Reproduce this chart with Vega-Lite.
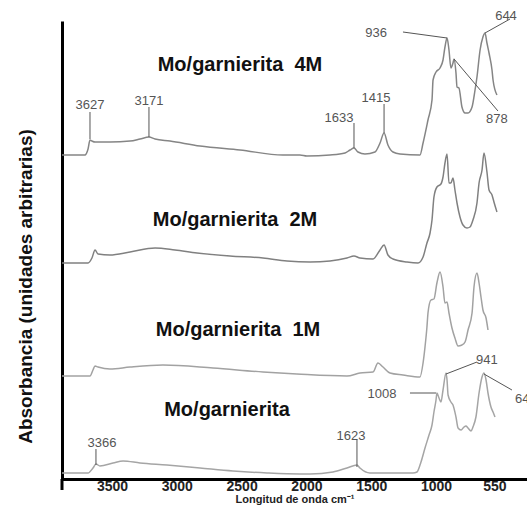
{
  "$schema": "https://vega.github.io/schema/vega-lite/v6.json",
  "width": 465,
  "height": 458,
  "autosize": "none",
  "padding": {"left": 62, "top": 21, "right": 0, "bottom": 27},
  "background": "white",
  "config": {"view": {"stroke": null}, "font": "Liberation Sans"},
  "datasets": {
    "spectra": [
      {"s":"4M","w":3886,"a":324},{"s":"4M","w":3709,"a":324},{"s":"4M","w":3685,"a":330},{"s":"4M","w":3670,"a":339},{"s":"4M","w":3655,"a":338},{"s":"4M","w":3631,"a":337},{"s":"4M","w":3516,"a":337},{"s":"4M","w":3361,"a":338},{"s":"4M","w":3284,"a":340},{"s":"4M","w":3215,"a":342},{"s":"4M","w":3168,"a":340},{"s":"4M","w":3053,"a":338},{"s":"4M","w":2821,"a":333},{"s":"4M","w":2513,"a":329},{"s":"4M","w":2181,"a":324},{"s":"4M","w":2050,"a":324},{"s":"4M","w":1996,"a":323},{"s":"4M","w":1818,"a":324},{"s":"4M","w":1702,"a":326},{"s":"4M","w":1664,"a":329},{"s":"4M","w":1633,"a":331},{"s":"4M","w":1602,"a":327},{"s":"4M","w":1548,"a":325},{"s":"4M","w":1471,"a":327},{"s":"4M","w":1432,"a":336},{"s":"4M","w":1401,"a":346},{"s":"4M","w":1371,"a":334},{"s":"4M","w":1332,"a":327},{"s":"4M","w":1278,"a":325},{"s":"4M","w":1124,"a":324},{"s":"4M","w":1100,"a":336},{"s":"4M","w":1062,"a":359},{"s":"4M","w":1031,"a":379},{"s":"4M","w":1023,"a":399},{"s":"4M","w":1000,"a":407},{"s":"4M","w":969,"a":411},{"s":"4M","w":946,"a":419},{"s":"4M","w":931,"a":432},{"s":"4M","w":915,"a":441},{"s":"4M","w":900,"a":429},{"s":"4M","w":885,"a":411},{"s":"4M","w":869,"a":416},{"s":"4M","w":861,"a":420},{"s":"4M","w":846,"a":406},{"s":"4M","w":838,"a":392},{"s":"4M","w":823,"a":391},{"s":"4M","w":800,"a":372},{"s":"4M","w":776,"a":366},{"s":"4M","w":753,"a":366},{"s":"4M","w":722,"a":372},{"s":"4M","w":699,"a":389},{"s":"4M","w":684,"a":402},{"s":"4M","w":660,"a":429},{"s":"4M","w":638,"a":442},{"s":"4M","w":622,"a":446},{"s":"4M","w":607,"a":436},{"s":"4M","w":591,"a":426},{"s":"4M","w":568,"a":409},{"s":"4M","w":560,"a":399},{"s":"4M","w":530,"a":384},
      {"s":"2M","w":3886,"a":216},{"s":"2M","w":3685,"a":216},{"s":"2M","w":3655,"a":221},{"s":"2M","w":3631,"a":229},{"s":"2M","w":3608,"a":225},{"s":"2M","w":3516,"a":224},{"s":"2M","w":3361,"a":227},{"s":"2M","w":3168,"a":231},{"s":"2M","w":3014,"a":229},{"s":"2M","w":2844,"a":226},{"s":"2M","w":2590,"a":223},{"s":"2M","w":2335,"a":221},{"s":"2M","w":2150,"a":218},{"s":"2M","w":1972,"a":217},{"s":"2M","w":1818,"a":218},{"s":"2M","w":1687,"a":221},{"s":"2M","w":1633,"a":223},{"s":"2M","w":1587,"a":221},{"s":"2M","w":1486,"a":220},{"s":"2M","w":1432,"a":229},{"s":"2M","w":1401,"a":234},{"s":"2M","w":1371,"a":224},{"s":"2M","w":1332,"a":220},{"s":"2M","w":1224,"a":217},{"s":"2M","w":1139,"a":216},{"s":"2M","w":1100,"a":222},{"s":"2M","w":1070,"a":236},{"s":"2M","w":1046,"a":246},{"s":"2M","w":1031,"a":259},{"s":"2M","w":1016,"a":282},{"s":"2M","w":993,"a":292},{"s":"2M","w":962,"a":295},{"s":"2M","w":946,"a":302},{"s":"2M","w":931,"a":316},{"s":"2M","w":915,"a":325},{"s":"2M","w":900,"a":296},{"s":"2M","w":885,"a":296},{"s":"2M","w":869,"a":301},{"s":"2M","w":854,"a":289},{"s":"2M","w":838,"a":276},{"s":"2M","w":815,"a":262},{"s":"2M","w":792,"a":254},{"s":"2M","w":761,"a":251},{"s":"2M","w":738,"a":252},{"s":"2M","w":715,"a":259},{"s":"2M","w":684,"a":276},{"s":"2M","w":668,"a":296},{"s":"2M","w":645,"a":309},{"s":"2M","w":630,"a":326},{"s":"2M","w":607,"a":307},{"s":"2M","w":591,"a":289},{"s":"2M","w":568,"a":284},{"s":"2M","w":553,"a":277},{"s":"2M","w":530,"a":267},
      {"s":"1M","w":3886,"a":103},{"s":"1M","w":3670,"a":103},{"s":"1M","w":3647,"a":109},{"s":"1M","w":3631,"a":113},{"s":"1M","w":3608,"a":112},{"s":"1M","w":3516,"a":110},{"s":"1M","w":3361,"a":112},{"s":"1M","w":3107,"a":114},{"s":"1M","w":2721,"a":111},{"s":"1M","w":2335,"a":107},{"s":"1M","w":2073,"a":105},{"s":"1M","w":1687,"a":103},{"s":"1M","w":1587,"a":106},{"s":"1M","w":1486,"a":107},{"s":"1M","w":1448,"a":116},{"s":"1M","w":1409,"a":112},{"s":"1M","w":1355,"a":106},{"s":"1M","w":1255,"a":104},{"s":"1M","w":1124,"a":102},{"s":"1M","w":1100,"a":116},{"s":"1M","w":1085,"a":132},{"s":"1M","w":1070,"a":152},{"s":"1M","w":1062,"a":166},{"s":"1M","w":1039,"a":179},{"s":"1M","w":1016,"a":180},{"s":"1M","w":993,"a":196},{"s":"1M","w":969,"a":207},{"s":"1M","w":946,"a":192},{"s":"1M","w":931,"a":176},{"s":"1M","w":915,"a":177},{"s":"1M","w":900,"a":166},{"s":"1M","w":877,"a":151},{"s":"1M","w":854,"a":141},{"s":"1M","w":830,"a":133},{"s":"1M","w":800,"a":134},{"s":"1M","w":776,"a":137},{"s":"1M","w":753,"a":149},{"s":"1M","w":722,"a":166},{"s":"1M","w":707,"a":192},{"s":"1M","w":684,"a":206},{"s":"1M","w":668,"a":196},{"s":"1M","w":653,"a":182},{"s":"1M","w":638,"a":169},{"s":"1M","w":614,"a":161},{"s":"1M","w":599,"a":149},
      {"s":"base","w":3886,"a":6},{"s":"base","w":3685,"a":6},{"s":"base","w":3647,"a":11},{"s":"base","w":3624,"a":15},{"s":"base","w":3593,"a":13},{"s":"base","w":3492,"a":16},{"s":"base","w":3415,"a":18},{"s":"base","w":3284,"a":16},{"s":"base","w":3076,"a":14},{"s":"base","w":2821,"a":11},{"s":"base","w":2567,"a":8},{"s":"base","w":2304,"a":6},{"s":"base","w":2050,"a":5},{"s":"base","w":1972,"a":5},{"s":"base","w":1795,"a":7},{"s":"base","w":1687,"a":11},{"s":"base","w":1610,"a":14},{"s":"base","w":1587,"a":11},{"s":"base","w":1510,"a":6},{"s":"base","w":1178,"a":6},{"s":"base","w":1147,"a":7},{"s":"base","w":1116,"a":17},{"s":"base","w":1085,"a":31},{"s":"base","w":1054,"a":44},{"s":"base","w":1031,"a":54},{"s":"base","w":1016,"a":67},{"s":"base","w":1000,"a":79},{"s":"base","w":993,"a":86},{"s":"base","w":977,"a":81},{"s":"base","w":962,"a":77},{"s":"base","w":946,"a":89},{"s":"base","w":923,"a":106},{"s":"base","w":915,"a":99},{"s":"base","w":907,"a":84},{"s":"base","w":885,"a":77},{"s":"base","w":869,"a":74},{"s":"base","w":846,"a":62},{"s":"base","w":830,"a":51},{"s":"base","w":807,"a":49},{"s":"base","w":784,"a":52},{"s":"base","w":769,"a":53},{"s":"base","w":753,"a":51},{"s":"base","w":730,"a":48},{"s":"base","w":715,"a":52},{"s":"base","w":692,"a":62},{"s":"base","w":668,"a":86},{"s":"base","w":645,"a":102},{"s":"base","w":630,"a":106},{"s":"base","w":614,"a":99},{"s":"base","w":599,"a":86},{"s":"base","w":576,"a":72},{"s":"base","w":560,"a":67},{"s":"base","w":545,"a":62}
    ],
    "leaders": [
      {"w":3670,"a":367,"w2":3670,"a2":340},
      {"w":3215,"a":372,"w2":3215,"a2":342},
      {"w":1633,"a":356,"w2":1633,"a2":331},
      {"w":1401,"a":375,"w2":1401,"a2":346},
      {"w":1255,"a":447,"w2":915,"a2":441},
      {"w":622,"a":446,"w2":429,"a2":460},
      {"w":861,"a":420,"w2":522,"a2":368},
      {"w":3624,"a":30,"w2":3624,"a2":14},
      {"w":1610,"a":39,"w2":1610,"a2":12},
      {"w":1201,"a":86,"w2":1000,"a2":86},
      {"w":923,"a":105,"w2":684,"a2":117},
      {"w":630,"a":105,"w2":414,"a2":89}
    ],
    "peaks": [
      {"w":3670,"a":374,"t":"3627"},
      {"w":3215,"a":378,"t":"3171"},
      {"w":1749,"a":361,"t":"1633"},
      {"w":1463,"a":381,"t":"1415"},
      {"w":1463,"a":446,"t":"936"},
      {"w":460,"a":463,"t":"644"},
      {"w":530,"a":360,"t":"878"},
      {"w":3577,"a":36,"t":"3366"},
      {"w":1656,"a":43,"t":"1623"},
      {"w":1417,"a":85,"t":"1008"},
      {"w":607,"a":119,"t":"941"},
      {"w":306,"a":80,"t":"644"}
    ],
    "samples": [
      {"w":2513,"a":414,"t":"Mo/garnierita \u00a04M"},
      {"w":2551,"a":259,"t":"Mo/garnierita \u00a02M"},
      {"w":2528,"a":149,"t":"Mo/garnierita \u00a01M"},
      {"w":2613,"a":69,"t":"Mo/garnierita"}
    ]
  },
  "encoding": {
    "x": {
      "field": "w", "type": "quantitative",
      "scale": {"domain": [298, 3886], "reverse": true, "nice": false, "zero": false},
      "axis": {
        "values": [3500, 3000, 2500, 2000, 1500, 1000, 550], "format": "d",
        "ticks": false, "grid": false, "labelFlush": false, "labelOverlap": false,
        "domainColor": "black", "domainWidth": 3,
        "labelFont": "Liberation Sans", "labelFontWeight": "bold", "labelFontSize": 14, "labelColor": "#222",
        "labelPadding": 0, "labelBaseline": "top",
        "title": "Longitud de onda cm\u207b\u00b9",
        "titleFont": "Liberation Sans", "titleFontSize": 11, "titleFontWeight": "bold", "titleColor": "#222",
        "titleY": 20, "titleBaseline": "middle"
      }
    },
    "y": {
      "field": "a", "type": "quantitative",
      "scale": {"domain": [0, 458], "nice": false, "zero": false},
      "axis": {
        "ticks": false, "labels": false, "grid": false,
        "domainColor": "black", "domainWidth": 3,
        "title": "Absorbancia (unidades arbitrarias)",
        "titleFont": "Liberation Sans", "titleFontSize": 19, "titleFontWeight": "bold", "titleColor": "#111",
        "titleAngle": -90, "titleX": -37, "titleY": 265, "titleAlign": "center", "titleBaseline": "middle"
      }
    }
  },
  "layer": [
    {
      "data": {"name": "spectra"},
      "mark": {"type": "line", "strokeWidth": 1.5, "interpolate": "monotone"},
      "encoding": {
        "color": {"field": "s", "type": "nominal", "legend": null,
          "scale": {"domain": ["4M", "2M", "1M", "base"], "range": ["#858585", "#808080", "#a2a2a2", "#a5a5a5"]}}
      }
    },
    {
      "data": {"name": "leaders"},
      "mark": {"type": "rule", "color": "#555", "strokeWidth": 1},
      "encoding": {"x2": {"field": "w2"}, "y2": {"field": "a2"}}
    },
    {
      "data": {"name": "peaks"},
      "mark": {"type": "text", "fontSize": 13, "color": "#555", "font": "Liberation Sans", "align": "center", "baseline": "middle"},
      "encoding": {"text": {"field": "t"}}
    },
    {
      "data": {"name": "samples"},
      "mark": {"type": "text", "fontSize": 20, "fontWeight": "bold", "color": "#111", "font": "Liberation Sans", "align": "center", "baseline": "middle"},
      "encoding": {"text": {"field": "t"}}
    },
    {
      "data": {"values": [{"w": 3886, "a": -11, "a2": 0}]},
      "mark": {"type": "rule", "color": "black", "strokeWidth": 3},
      "encoding": {"y2": {"field": "a2"}}
    }
  ]
}
